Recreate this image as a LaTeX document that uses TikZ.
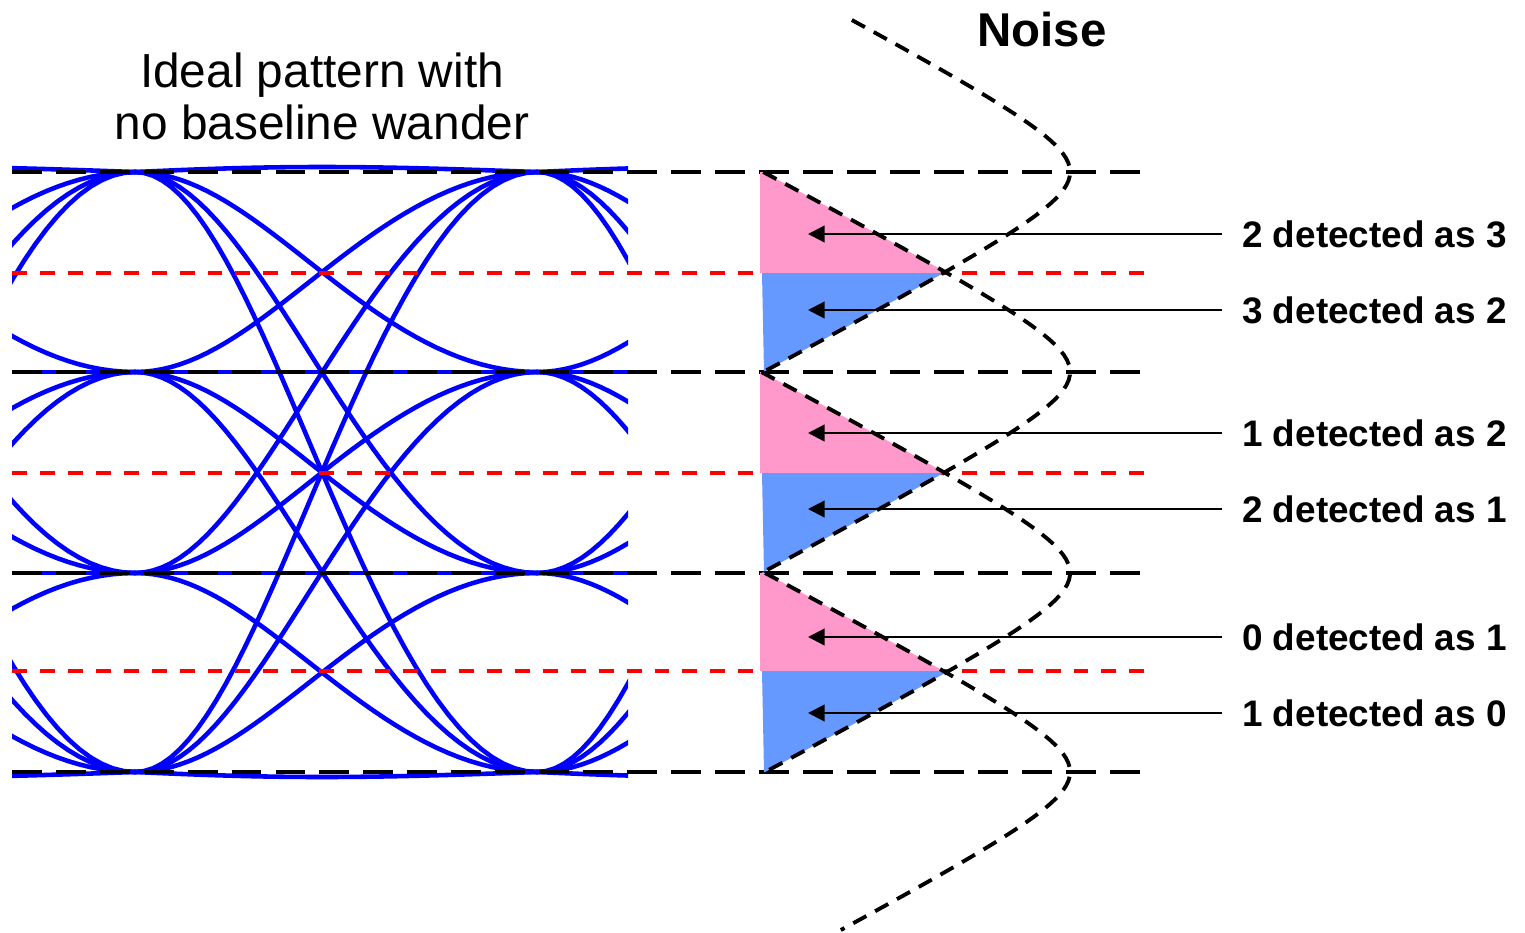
\documentclass[tikz,border=0pt]{standalone}
\usepackage{fontspec}
\setmainfont{Liberation Sans}
\usetikzlibrary{arrows.meta}
\definecolor{eyec}{RGB}{0,0,255}
\definecolor{errup}{RGB}{255,153,204}
\definecolor{errdn}{RGB}{102,153,255}
\definecolor{thrc}{RGB}{255,0,0}
% sideways noise bump: x position for height #1 around level #2
\pgfmathdeclarefunction{gx}{2}{\pgfmathparse{1152-100*sqrt(0.6708+3.61*((#1-#2)/100)*((#1-#2)/100))}}

\begin{document}
\begin{tikzpicture}[x=0.02cm,y=-0.02cm,>={Triangle[length=9.5pt,width=9.5pt]},
  lvl/.style={draw=black,line width=2.6pt,dash pattern=on 17pt off 8pt},
  thr/.style={draw=thrc,line width=1.9pt,dash pattern=on 8.5pt off 7.4pt},
  noise/.style={draw=black,line width=2.2pt,dash pattern=on 8.5pt off 5.7pt},
  trace/.style={draw=eyec,line width=2.6pt},
  lab/.style={anchor=west,font=\fontsize{21}{25}\selectfont\bfseries,inner xsep=11.3pt,inner ysep=0pt},
  ttl/.style={anchor=base,font=\fontsize{27.2}{30}\selectfont,inner sep=0pt}]
\useasboundingbox (0,0) rectangle (1525,933);

%============================== eye pattern ==============================
\begin{scope}
\clip (12,140) rectangle (628,800);
\foreach \xs in {-267,135,537}{
  \foreach \ya in {172,372,573,772}{
    \foreach \yb in {172,372,573,772}{
      \pgfmathsetmacro\bul{(\ya==\yb)*((\ya==172)*(-5)+(\ya==772)*5)}
      \draw[trace] plot[domain=0:1,samples=41,variable=\s]
        ({\xs+402*\s-14*sin(180*\s)},{\ya+(\yb-\ya)*(1-cos(180*\s))/2+\bul*sin(180*\s)});
    }}}
\end{scope}

\node[ttl] (ideal1) at (322,87) {Ideal pattern with};
\node[ttl] (ideal2) at (322,139) {no baseline wander};

%============================== thresholds and levels ==============================
\foreach \yy in {273,473,671}{\draw[thr] (12,\yy) -- (1147,\yy);}
\foreach \yy in {172,372,573,772}{\draw[lvl] (12,\yy) -- (1145,\yy);}

%============================== error regions ==============================
\foreach \yt/\ym/\yb in {172/273/372,372/473/573,573/671/772}{
  \fill[errup] (760,\yt) -- plot[domain=\yt:\ym,samples=30,variable=\y] ({gx(\y,\yb)},\y) -- (760,\ym) -- cycle;
  \fill[errdn] (762,\ym) -- plot[domain=\ym:\yb,samples=30,variable=\y] ({gx(\y,\yt)},\y) -- (764,\yb) -- cycle;
}

%============================== noise ==============================
\node[ttl,font=\fontsize{27}{30}\selectfont\bfseries] (noise) at (1042,47) {Noise};
\draw[noise] plot[domain=20:372,samples=80,variable=\y] ({gx(\y,172)},\y);
\draw[noise] plot[domain=172:573,samples=80,variable=\y] ({gx(\y,372)},\y);
\draw[noise] plot[domain=372:772,samples=80,variable=\y] ({gx(\y,573)},\y);
\draw[noise] plot[domain=573:930,samples=80,variable=\y] ({gx(\y,772)},\y);

%============================== error labels ==============================
\foreach \yy/\nm/\txt in {234/e23/2 detected as 3,310/e32/3 detected as 2,
    433/e12/1 detected as 2,509/e21/2 detected as 1,
    637/e01/0 detected as 1,713/e10/1 detected as 0}{
  \node[lab] (\nm) at (1222,\yy) {\txt};
  \coordinate (\nm tip) at (808,\yy);
  \draw[->,line width=1.3pt] (\nm.west) -- (\nm tip);
}
\end{tikzpicture}
\end{document}
